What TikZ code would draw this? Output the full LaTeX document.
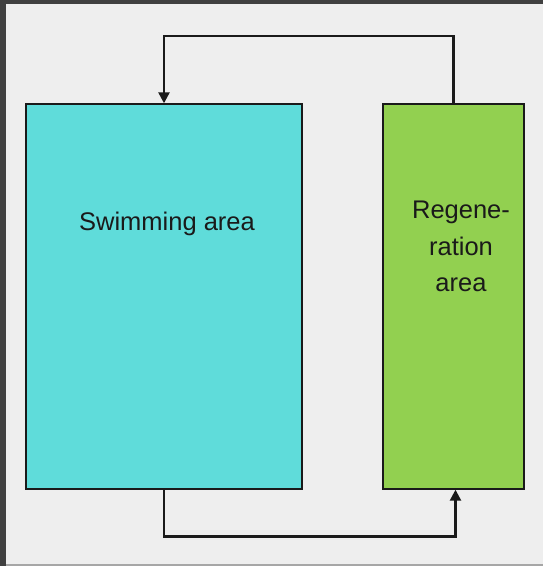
\documentclass[tikz,border=0pt]{standalone}
\usepackage{fontspec}
\setmainfont{Liberation Sans}
\usetikzlibrary{arrows.meta}
\definecolor{bgc}{HTML}{EEEEEE}
\definecolor{framec}{HTML}{404040}
\definecolor{swimc}{HTML}{5FDCDA}
\definecolor{regenc}{HTML}{92D050}
\definecolor{linec}{HTML}{1A1A1A}
\tikzset{
  area/.style={draw=linec, line width=1.4pt, rectangle, inner sep=0pt, minimum height=385pt},
  lbl/.style={font=\fontsize{25.5}{36.5}\selectfont, text=linec, align=center, inner sep=0pt},
  flow/.style={draw=linec, line width=2.4pt, -{Triangle[length=11pt,width=11pt]}}
}
\begin{document}
\begin{tikzpicture}[x=1pt,y=1pt]
\useasboundingbox (0,0) rectangle (543,566);
\fill[bgc] (0,0) rectangle (543,566);
\fill[framec] (0,562) rectangle (543,566);
\fill[framec] (0,0) rectangle (6,566);
\fill[black!35] (6,0) rectangle (543,2);
\node[area, fill=swimc, minimum width=276pt] (swim) at (164,269.5) {};
\node[area, fill=regenc, minimum width=141pt] (regen) at (453.5,269.5) {};
\node[lbl] (swimlbl) at (167,342) {Swimming area};
\node[lbl] (regenlbl) at (461,319.5) {Regene-\\ration\\area};
\draw[flow] (regen.north) -- ++(0,67) -| (swim.north);
\draw[flow] (swim.south) -- ++(0,-47) -| ([xshift=2pt]regen.south);
\end{tikzpicture}
\end{document}
